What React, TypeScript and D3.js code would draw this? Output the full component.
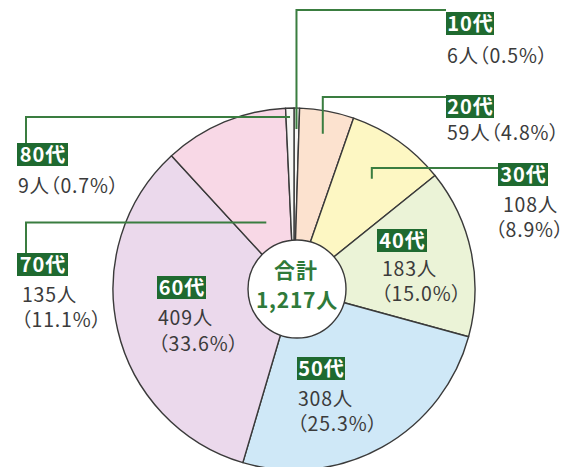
import React from "react";
import * as d3 from "d3";

// ---- data ----
const categories = ["10代", "20代", "30代", "40代", "50代", "60代", "70代", "80代"];
const counts = [6, 59, 108, 183, 308, 409, 135, 9];
const sliceColors = ["#f7f7f5", "#fce2cf", "#fdf7c3", "#ebf3d7", "#cfe8f7", "#ebd9ec", "#f8d8e6", "#f7f7f5"];
const totalLabel = "合計";

// ---- layout (per label) ----
type Lay = {
  bx: number; by: number; bw: number;
  lines: { x: number; y: number }[];
  twoLine: boolean;
  leader?: { r: number; kind: "up" | "left"; level: number; to: number };
};
const layout: Lay[] = [
  { bx: 446, by: 12, bw: 48, twoLine: false, lines: [{ x: 447, y: 63 }], leader: { r: 160, kind: "up", level: 10, to: 446 } },
  { bx: 446, by: 95, bw: 48, twoLine: false, lines: [{ x: 447, y: 140 }], leader: { r: 158, kind: "up", level: 97, to: 446 } },
  { bx: 498, by: 163, bw: 50, twoLine: true, lines: [{ x: 503, y: 212 }, { x: 495, y: 237 }], leader: { r: 135, kind: "up", level: 168, to: 498 } },
  { bx: 377, by: 229, bw: 50, twoLine: true, lines: [{ x: 382, y: 276 }, { x: 381, y: 301 }] },
  { bx: 297, by: 357, bw: 48, twoLine: true, lines: [{ x: 298, y: 406 }, { x: 297, y: 431 }] },
  { bx: 157, by: 276, bw: 49, twoLine: true, lines: [{ x: 158, y: 325 }, { x: 158, y: 351 }] },
  { bx: 17, by: 253, bw: 51, twoLine: true, lines: [{ x: 22, y: 302 }, { x: 21, y: 327 }], leader: { r: 72, kind: "left", level: 253, to: 26 } },
  { bx: 17, by: 143, bw: 51, twoLine: false, lines: [{ x: 18, y: 193 }], leader: { r: 172, kind: "left", level: 143, to: 26 } },
];

const W = 562, H = 467;
const cx = 294, cy = 289, R = 181;
const innerCx = 297, innerCy = 289, innerR = 49;
const FONT = "'Noto Sans CJK JP', 'Noto Sans', sans-serif";
const GREEN_BOX = "#1f6a30";
const GREEN_LINE = "#3a7d40";
const TEXT = "#3b3b3b";

export default function App() {
  const total = d3.sum(counts);
  const data = categories.map((c, i) => ({ c, v: counts[i], i }));
  const pie = d3.pie<any>().sort(null).value((d: any) => d.v).startAngle(0).endAngle(2 * Math.PI);
  const arcs = pie(data);
  const arc = d3.arc<any>().innerRadius(0).outerRadius(R);
  const fmt = d3.format(",");
  const pct = (v: number) => ((v / total) * 100).toFixed(1);

  return (
    <svg width={W} height={H} style={{ position: "absolute", left: 0, top: 0, background: "#fff", fontFeatureSettings: '"palt"' }} fontFamily={FONT}>
      <g transform={`translate(${cx},${cy})`}>
        {arcs.map((a, i) => (
          <path key={i} d={arc(a) as string} fill={sliceColors[i]} stroke="#3a3a3a" strokeWidth={1.4} strokeLinejoin="round" />
        ))}
      </g>
      {/* leaders */}
      {arcs.map((a, i) => {
        const L = layout[i].leader;
        if (!L) return null;
        const mid = (a.startAngle + a.endAngle) / 2;
        const ex = cx + L.r * Math.sin(mid);
        const ey = cy - L.r * Math.cos(mid);
        let d: string;
        if (L.kind === "up") {
          d = `M${ex},${ey} V${L.level} H${L.to}`;
        } else {
          d = `M${ex},${ey} H${L.to} V${L.level}`;
        }
        return <path key={"l" + i} d={d} fill="none" stroke={GREEN_LINE} strokeWidth={2} />;
      })}
      {/* center circle */}
      <circle cx={innerCx} cy={innerCy} r={innerR} fill="#fff" stroke="#3a3a3a" strokeWidth={1.4} />
      <text x={innerCx - 1} y={278} textAnchor="middle" fontSize={21} fontWeight={700} fill="#2f7a3a" letterSpacing={1}>{totalLabel}</text>
      <text x={innerCx} y={308} textAnchor="middle" fontSize={21} fontWeight={700} fill="#2f7a3a" letterSpacing={0.8}>{fmt(total) + "人"}</text>
      {/* labels */}
      {data.map((d, i) => {
        const l = layout[i];
        const texts = l.twoLine ? [`${d.v}人`, `（${pct(d.v)}%）`] : [`${d.v}人（${pct(d.v)}%）`];
        return (
          <g key={"t" + i}>
            <rect x={l.bx} y={l.by} width={l.bw} height={23} fill={GREEN_BOX} />
            <text x={l.bx + l.bw / 2 + 0.5} y={l.by + 18.5} textAnchor="middle" fontSize={20} fontWeight={700} fill="#fff" letterSpacing={1}>{d.c}</text>
            {texts.map((t, k) => (
              <text key={k} x={l.lines[k].x} y={l.lines[k].y} fontSize={19.5} fill={TEXT} letterSpacing={0.8}>{t}</text>
            ))}
          </g>
        );
      })}
    </svg>
  );
}
